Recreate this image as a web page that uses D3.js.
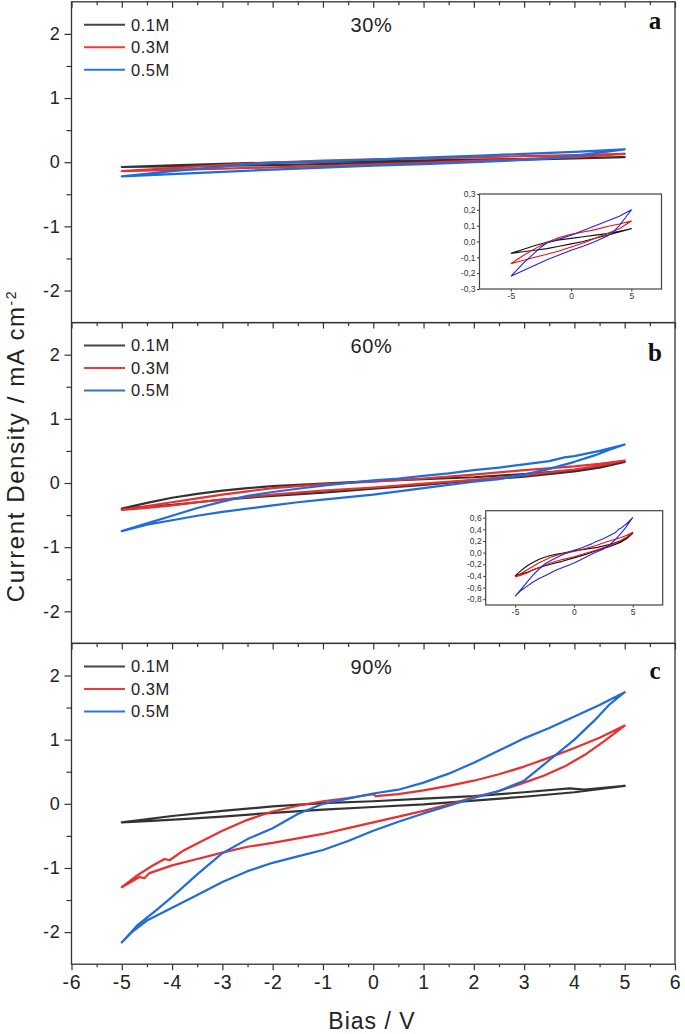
<!DOCTYPE html>
<html><head><meta charset="utf-8">
<script src="https://cdn.jsdelivr.net/npm/d3@7"></script>
<style>body{margin:0;background:#fff}svg{display:block}</style>
</head><body>
<script>
// ---------- DATA ----------
const concentrations = ["0.1M", "0.3M", "0.5M"];
const humidity = ["30%", "60%", "90%"];
const panelLetters = ["a", "b", "c"];
const xTicks = [-6,-5,-4,-3,-2,-1,0,1,2,3,4,5,6];
const yTicks = [-2,-1,0,1,2];
const insetATicksY = [-0.3,-0.2,-0.1,0,0.1,0.2,0.3];
const insetBTicksY = [-0.8,-0.6,-0.4,-0.2,0,0.2,0.4,0.6];
const insetTicksX = [-5,0,5];

// 30 %
const a01 = [[-5,-0.075],[-4,-0.05],[-3,-0.025],[-2,-0.005],[-1,0.01],[0,0.02],[1,0.03],[2,0.04],[3,0.05],[4,0.065],[5,0.08],
  [4,0.06],[3,0.04],[2,0.02],[1,0.0],[0,-0.015],[-1,-0.03],[-2,-0.045],[-3,-0.055],[-4,-0.065],[-5,-0.075]];
const a03 = [[-5,-0.14],[-4,-0.09],[-3,-0.045],[-2,-0.005],[-1,0.025],[0,0.045],[1,0.06],[2,0.075],[3,0.095],[4,0.11],[5,0.13],
  [4,0.08],[3,0.05],[2,0.02],[1,-0.01],[0,-0.035],[-1,-0.06],[-2,-0.08],[-3,-0.1],[-4,-0.12],[-5,-0.14]];
const a05 = [[-5,-0.22],[-4,-0.14],[-3,-0.07],[-2.5,-0.035],[-2,-0.01],[-1,0.015],[0,0.04],[1,0.07],[2,0.1],[3,0.13],[4,0.16],[5,0.2],
  [4.5,0.15],[4,0.1],[3.5,0.06],[3,0.035],[2,0.0],[1,-0.03],[0,-0.055],[-1,-0.085],[-2,-0.115],[-3,-0.15],[-4,-0.185],[-5,-0.22]];
// 60 %
const b01 = [[-5,-0.40],[-4.5,-0.31],[-4,-0.23],[-3.5,-0.17],[-3,-0.12],[-2.5,-0.08],[-2,-0.05],[-1.5,-0.03],[-1,-0.01],[-0.5,0.01],[0,0.03],[1,0.06],[2,0.09],[3,0.14],[3.5,0.17],[4,0.2],[4.5,0.25],[5,0.33],
  [4.5,0.24],[4,0.18],[3,0.1],[2,0.04],[1,-0.03],[0,-0.09],[-1,-0.15],[-2,-0.2],[-3,-0.26],[-3.5,-0.3],[-4,-0.34],[-4.5,-0.37],[-5,-0.40]];
const b03 = [[-5,-0.42],[-4.5,-0.36],[-4,-0.3],[-3.5,-0.24],[-3,-0.18],[-2.5,-0.13],[-2,-0.08],[-1.5,-0.05],[-1,-0.02],[-0.5,0.0],[0,0.02],[1,0.07],[2,0.13],[3,0.2],[4,0.26],[4.5,0.3],[5,0.35],
  [4.5,0.27],[4,0.21],[3,0.12],[2,0.05],[1,-0.01],[0,-0.07],[-1,-0.12],[-2,-0.18],[-3,-0.26],[-3.5,-0.3],[-4,-0.35],[-4.5,-0.39],[-5,-0.42]];
const b05 = [[-5,-0.75],[-4.5,-0.63],[-4,-0.51],[-3.5,-0.39],[-3,-0.29],[-2.5,-0.2],[-2,-0.14],[-1.5,-0.09],[-1,-0.04],[-0.5,0.0],[0,0.04],[0.5,0.07],[1,0.11],[1.5,0.15],[2,0.2],[2.5,0.24],[3,0.29],[3.5,0.34],[3.8,0.4],[4,0.42],[4.5,0.5],[5,0.6],
  [4.7,0.52],[4.4,0.43],[4,0.33],[3.5,0.22],[3,0.13],[2.5,0.06],[2,0.02],[1.5,-0.03],[1,-0.08],[0.5,-0.13],[0,-0.18],[-0.5,-0.22],[-1,-0.26],[-1.5,-0.3],[-2,-0.35],[-2.5,-0.4],[-3,-0.45],[-3.5,-0.51],[-4,-0.58],[-4.5,-0.65],[-5,-0.75]];
// 90 %
const c01 = [[-5,-0.29],[-4,-0.19],[-3,-0.11],[-2,-0.04],[-1,0.01],[0,0.04],[1,0.08],[2,0.12],[3,0.18],[3.9,0.24],[4.2,0.22],[5,0.28],
  [4,0.18],[3,0.11],[2,0.05],[1,-0.01],[0,-0.05],[-1,-0.09],[-2,-0.14],[-3,-0.2],[-3.8,-0.24],[-4.5,-0.27],[-5,-0.29]];
const c03 = [[-5,-1.3],[-4.7,-1.12],[-4.4,-0.97],[-4.15,-0.86],[-4.05,-0.88],[-3.8,-0.74],[-3.5,-0.62],[-3,-0.42],[-2.5,-0.25],[-2,-0.12],[-1.5,-0.03],[-1,0.04],[-0.5,0.09],[0,0.15],[0.05,0.12],[0.5,0.15],[1,0.21],[1.5,0.28],[2,0.36],[2.5,0.46],[3,0.58],[3.5,0.72],[4,0.87],[4.5,1.03],[5,1.22],
  [4.6,0.98],[4.2,0.76],[3.8,0.58],[3.4,0.44],[3,0.33],[2.5,0.2],[2,0.1],[1.5,-0.01],[1,-0.11],[0.5,-0.2],[0,-0.29],[-0.5,-0.38],[-1,-0.47],[-1.5,-0.54],[-2,-0.61],[-2.5,-0.67],[-3,-0.76],[-3.5,-0.86],[-4,-0.96],[-4.45,-1.08],[-4.55,-1.16],[-4.65,-1.14],[-5,-1.3]];
const c05 = [[-5,-2.16],[-4.7,-1.9],[-4.3,-1.65],[-4,-1.45],[-3.5,-1.1],[-3,-0.77],[-2.5,-0.55],[-2,-0.38],[-1.5,-0.16],[-1,0.0],[-0.5,0.08],[0,0.16],[0.5,0.22],[1,0.33],[1.5,0.47],[2,0.64],[2.5,0.83],[3,1.02],[3.5,1.18],[4,1.36],[4.5,1.54],[5,1.74],
  [4.7,1.55],[4.4,1.3],[4,1.0],[3.5,0.68],[3,0.36],[2.5,0.2],[2,0.09],[1.5,-0.03],[1,-0.15],[0.5,-0.28],[0,-0.42],[-0.5,-0.58],[-1,-0.72],[-1.5,-0.82],[-2,-0.92],[-2.5,-1.05],[-3,-1.22],[-3.5,-1.42],[-4,-1.62],[-4.5,-1.82],[-4.8,-2.0],[-5,-2.16]];

const panelSeries = [[a01,a03,a05],[b01,b03,b05],[c01,c03,c05]];

// ---------- STYLE / LAYOUT ----------
const W = 685, H = 1034;
const colors = ["#333333", "#e8302e", "#1f6cdc"];
const insetColors = ["#111111", "#ee1111", "#2424dd"];
const legendColors = ["#444444", "#ee3a3a", "#2e74dc"];
const frameL = 71.5, frameR = 675;
const panelTop = [1.8, 322.6, 643.4], panelH = 320.8;
const FONT = "'Liberation Sans', Arial, sans-serif";

const svg = d3.select("body").append("svg").attr("width", W).attr("height", H);

const x = d3.scaleLinear().domain([-6, 6]).range([frameL, frameR]);
const line = (xs, ys) => d3.line().x(d => xs(d[0])).y(d => ys(d[1])).curve(d3.curveLinear);
const fmtHy = v => (v < 0 ? "-" : "") + Math.abs(v);
const fmtComma = v => (v < 0 ? "-" : "") + Math.abs(v).toFixed(1).replace(".", ",");

panelSeries.forEach((series, i) => {
  const top = panelTop[i];
  const y = d3.scaleLinear().domain([-2.5, 2.5]).range([top + panelH, top]);
  const g = svg.append("g");

  series.forEach((s, k) => {
    g.append("path").datum(s).attr("d", line(x, y)).attr("fill", "none")
      .attr("stroke", colors[k]).attr("stroke-width", 2.2).attr("stroke-linejoin", "round").attr("stroke-linecap", "round");
  });

  const yAx = d3.axisLeft(y).tickValues(yTicks).tickSize(7).tickPadding(4).tickFormat(fmtHy);
  const ya = g.append("g").attr("transform", `translate(${frameL},0)`).call(yAx);
  ya.select(".domain").remove();
  ya.selectAll("line").attr("stroke", "#333").attr("stroke-width", 1.2);
  ya.selectAll("text").attr("font-family", FONT).attr("font-size", 18).attr("fill", "#222").attr("letter-spacing", 0.8);
  const yMinor = g.append("g").attr("transform", `translate(${frameL},0)`)
    .call(d3.axisLeft(y).tickValues([-1.5,-0.5,0.5,1.5]).tickSize(5).tickFormat(""));
  yMinor.select(".domain").remove();
  yMinor.selectAll("line").attr("stroke", "#333").attr("stroke-width", 1.2);

  const tAx = g.append("g").attr("transform", `translate(0,${top})`)
    .call(d3.axisBottom(x).tickValues(xTicks).tickSize(6).tickFormat(""));
  tAx.select(".domain").remove();
  tAx.selectAll("line").attr("stroke", "#333").attr("stroke-width", 1.2);
  const tMin = g.append("g").attr("transform", `translate(0,${top})`)
    .call(d3.axisBottom(x).tickValues(d3.range(-5.5, 6, 1)).tickSize(3.5).tickFormat(""));
  tMin.select(".domain").remove();
  tMin.selectAll("line").attr("stroke", "#333").attr("stroke-width", 1.2);

  g.append("rect").attr("x", frameL).attr("y", top).attr("width", frameR - frameL).attr("height", panelH)
    .attr("fill", "none").attr("stroke", "#333").attr("stroke-width", 1.3);

  g.append("text").attr("x", 371.5).attr("y", top + 30.5).attr("text-anchor", "middle")
    .attr("font-family", FONT).attr("font-size", 20).attr("fill", "#222").attr("letter-spacing", 0.6).text(humidity[i]);
  const letterY = [29, 361, 679][i];
  g.append("text").attr("x", 655).attr("y", letterY).attr("text-anchor", "middle")
    .attr("font-family", "'Liberation Serif', 'Times New Roman', serif").attr("font-weight", "bold")
    .attr("font-size", 25).attr("fill", "#111").text(panelLetters[i]);

  const lOff = [23, 45.5, 68];
  concentrations.forEach((c, k) => {
    const ly = top + lOff[k];
    g.append("line").attr("x1", 84).attr("x2", 125).attr("y1", ly).attr("y2", ly)
      .attr("stroke", legendColors[k]).attr("stroke-width", 2);
    g.append("text").attr("x", 131).attr("y", ly + 5.8).attr("font-family", FONT).attr("font-size", 16.5)
      .attr("fill", "#222").attr("letter-spacing", 0.5).text(c);
  });
});

const bottomY = panelTop[2] + panelH;
const bx = svg.append("g").attr("transform", `translate(0,${bottomY})`)
  .call(d3.axisBottom(x).tickValues(xTicks).tickSize(6).tickPadding(5).tickFormat(fmtHy));
bx.select(".domain").remove();
bx.selectAll("line").attr("stroke", "#333").attr("stroke-width", 1.2);
bx.selectAll("text").attr("font-family", FONT).attr("font-size", 19.5).attr("fill", "#222").attr("letter-spacing", 0.8);
const bxm = svg.append("g").attr("transform", `translate(0,${bottomY})`)
  .call(d3.axisBottom(x).tickValues(d3.range(-5.5, 6, 1)).tickSize(3).tickFormat(""));
bxm.select(".domain").remove();
bxm.selectAll("line").attr("stroke", "#333").attr("stroke-width", 1.2);

svg.append("text").attr("x", 372).attr("y", 1029).attr("text-anchor", "middle")
  .attr("font-family", FONT).attr("font-size", 23).attr("letter-spacing", 1).attr("fill", "#222").text("Bias / V");
const yl = svg.append("text").attr("transform", "translate(24,446) rotate(-90)").attr("text-anchor", "middle")
  .attr("font-family", FONT).attr("font-size", 24).attr("letter-spacing", 1.6).attr("fill", "#222");
yl.append("tspan").text("Current Density / mA cm");
yl.append("tspan").attr("dy", -8).attr("font-size", 14).text("-2");

// ---------- INSETS ----------
function inset(box, xd, yd, yt, series) {
  const xs = d3.scaleLinear().domain(xd).range([box.l, box.r]);
  const ys = d3.scaleLinear().domain(yd).range([box.b, box.t]);
  const g = svg.append("g");
  g.append("rect").attr("x", box.l).attr("y", box.t).attr("width", box.r - box.l).attr("height", box.b - box.t)
    .attr("fill", "#fff").attr("stroke", "none");
  series.forEach((s, k) => {
    g.append("path").datum(s).attr("d", line(xs, ys)).attr("fill", "none")
      .attr("stroke", insetColors[k]).attr("stroke-width", 1.1).attr("stroke-linejoin", "round");
  });
  const ya = g.append("g").attr("transform", `translate(${box.l},0)`)
    .call(d3.axisLeft(ys).tickValues(yt).tickSize(2.5).tickPadding(1.5).tickFormat(fmtComma));
  ya.select(".domain").remove();
  ya.selectAll("line").attr("stroke", "#333");
  ya.selectAll("text").attr("font-family", FONT).attr("font-size", 8.5).attr("fill", "#333");
  const xa = g.append("g").attr("transform", `translate(0,${box.b})`)
    .call(d3.axisBottom(xs).tickValues(insetTicksX).tickSize(2.5).tickPadding(1.5).tickFormat(fmtHy));
  xa.select(".domain").remove();
  xa.selectAll("line").attr("stroke", "#333");
  xa.selectAll("text").attr("font-family", FONT).attr("font-size", 8.5).attr("fill", "#333");
  g.append("rect").attr("x", box.l).attr("y", box.t).attr("width", box.r - box.l).attr("height", box.b - box.t)
    .attr("fill", "none").attr("stroke", "#444").attr("stroke-width", 1.2);
}
inset({l: 479.5, r: 661.5, t: 194, b: 289}, [-7.6, 7.5], [-0.3, 0.3], insetATicksY, panelSeries[0]);
inset({l: 485.7, r: 662.7, t: 510.7, b: 605}, [-7.5, 7.55], [-0.9, 0.72], insetBTicksY, panelSeries[1]);
</script>
</body></html>
